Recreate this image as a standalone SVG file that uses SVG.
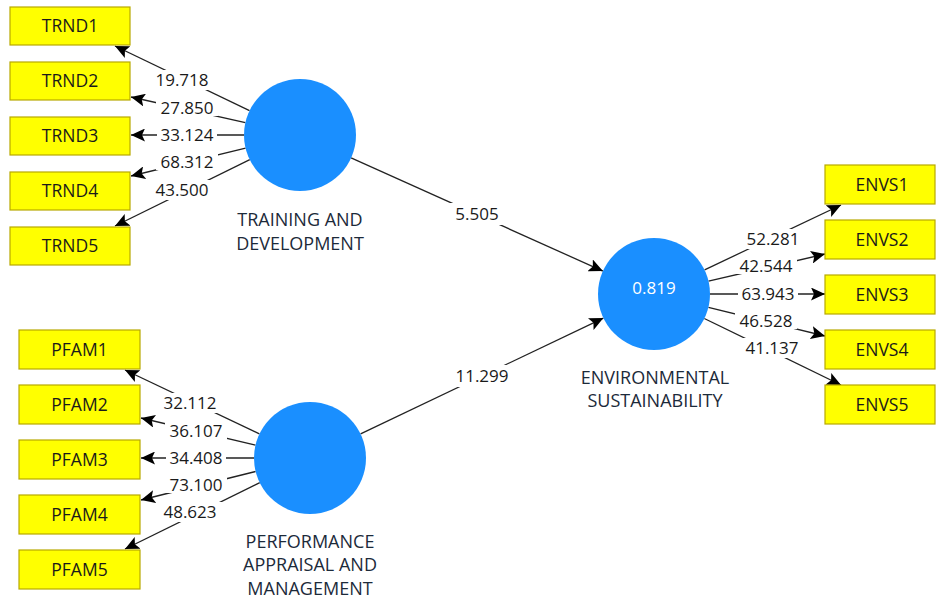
<svg xmlns="http://www.w3.org/2000/svg" width="936" height="602" viewBox="0 0 936 602">
<defs>
<marker id="ah" markerUnits="userSpaceOnUse" markerWidth="15" markerHeight="13" refX="14" refY="6.5" orient="auto">
<path d="M0,0 L14,6.5 L0,13 L3,6.5 Z" fill="#000"/>
</marker>
<style>
.box{fill:#ffff00;stroke:#b8a900;stroke-width:1.2}
.bt{font-family:"Open Sans","Noto Sans",sans-serif;font-size:17.5px;fill:#1a1a1a;text-anchor:middle}
.lv{fill:#1a8fff}
.lt{font-family:"Open Sans","Noto Sans",sans-serif;font-size:18px;fill:#1c2a3a;text-anchor:middle}
.num{font-family:"Open Sans","Noto Sans",sans-serif;font-size:17px;fill:#1a1a1a;text-anchor:middle}
.bg{fill:#fff}
.ln{stroke:#222;stroke-width:1.3;fill:none;marker-end:url(#ah)}
</style>
</defs>
<rect width="936" height="602" fill="#fff"/>
<g id="connectors">
<line class="ln" x1="249.5" y1="110.7" x2="115" y2="46"/>
<line class="ln" x1="245.4" y1="122.7" x2="131" y2="97"/>
<line class="ln" x1="244" y1="135" x2="131" y2="135"/>
<line class="ln" x1="245.6" y1="148.2" x2="131" y2="176"/>
<line class="ln" x1="249.8" y1="159.7" x2="115" y2="226"/>
<line class="ln" x1="259.4" y1="433.9" x2="125" y2="370"/>
<line class="ln" x1="255.5" y1="445.1" x2="141" y2="418"/>
<line class="ln" x1="254" y1="458" x2="141" y2="458"/>
<line class="ln" x1="255.6" y1="471.5" x2="141" y2="500"/>
<line class="ln" x1="259.8" y1="482.7" x2="125" y2="549"/>
<line class="ln" x1="704.6" y1="269.9" x2="841" y2="205"/>
<line class="ln" x1="708.5" y1="281.2" x2="825" y2="254"/>
<line class="ln" x1="710" y1="294" x2="825" y2="294"/>
<line class="ln" x1="708.4" y1="307.4" x2="825" y2="336"/>
<line class="ln" x1="704.3" y1="318.5" x2="841" y2="385"/>
<line class="ln" x1="351.1" y1="157.9" x2="602.9" y2="271.1"/>
<line class="ln" x1="360.6" y1="433.9" x2="603.4" y2="318.1"/>
<g id="labels">
<rect class="bg" x="150" y="70" width="64" height="20"/><text class="num" x="182" y="86">19.718</text>
<rect class="bg" x="156" y="100" width="62" height="16"/><text class="num" x="187" y="114">27.850</text>
<rect class="bg" x="157" y="127" width="60" height="16"/><text class="num" x="187" y="141">33.124</text>
<rect class="bg" x="156" y="154" width="62" height="16"/><text class="num" x="187" y="168">68.312</text>
<rect class="bg" x="150" y="180" width="64" height="20"/><text class="num" x="182" y="196">43.500</text>
<rect class="bg" x="158" y="393" width="64" height="20"/><text class="num" x="190" y="409">32.112</text>
<rect class="bg" x="165" y="423" width="62" height="16"/><text class="num" x="196" y="437">36.107</text>
<rect class="bg" x="166" y="450" width="60" height="16"/><text class="num" x="196" y="464">34.408</text>
<rect class="bg" x="165" y="477" width="62" height="16"/><text class="num" x="196" y="491">73.100</text>
<rect class="bg" x="158" y="502" width="64" height="20"/><text class="num" x="190" y="518">48.623</text>
<rect class="bg" x="741" y="229" width="64" height="20"/><text class="num" x="773" y="245">52.281</text>
<rect class="bg" x="735" y="258" width="62" height="16"/><text class="num" x="766" y="272">42.544</text>
<rect class="bg" x="738" y="286" width="60" height="16"/><text class="num" x="768" y="300">63.943</text>
<rect class="bg" x="735" y="313" width="62" height="16"/><text class="num" x="766" y="327">46.528</text>
<rect class="bg" x="740" y="338" width="64" height="20"/><text class="num" x="772" y="354">41.137</text>
<rect class="bg" x="447" y="203" width="60" height="22"/><text class="num" x="477" y="220">5.505</text>
<rect class="bg" x="449" y="365" width="66" height="22"/><text class="num" x="482" y="382">11.299</text>
</g>
</g>
<g id="TRND1"><rect class="box" x="10" y="7" width="120" height="38"/><text class="bt" x="70" y="32">TRND1</text></g>
<g id="TRND2"><rect class="box" x="10" y="62" width="120" height="38"/><text class="bt" x="70" y="87">TRND2</text></g>
<g id="TRND3"><rect class="box" x="10" y="117" width="120" height="38"/><text class="bt" x="70" y="142">TRND3</text></g>
<g id="TRND4"><rect class="box" x="10" y="172" width="120" height="38"/><text class="bt" x="70" y="197">TRND4</text></g>
<g id="TRND5"><rect class="box" x="10" y="227" width="120" height="38"/><text class="bt" x="70" y="252">TRND5</text></g>
<g id="PFAM1"><rect class="box" x="19" y="330" width="121" height="39"/><text class="bt" x="79.5" y="355.5">PFAM1</text></g>
<g id="PFAM2"><rect class="box" x="19" y="385" width="121" height="39"/><text class="bt" x="79.5" y="410.5">PFAM2</text></g>
<g id="PFAM3"><rect class="box" x="19" y="440" width="121" height="39"/><text class="bt" x="79.5" y="465.5">PFAM3</text></g>
<g id="PFAM4"><rect class="box" x="19" y="495" width="121" height="39"/><text class="bt" x="79.5" y="520.5">PFAM4</text></g>
<g id="PFAM5"><rect class="box" x="19" y="550" width="121" height="39"/><text class="bt" x="79.5" y="575.5">PFAM5</text></g>
<g id="ENVS1"><rect class="box" x="825" y="165" width="110" height="39"/><text class="bt" x="882" y="190.5">ENVS1</text></g>
<g id="ENVS2"><rect class="box" x="825" y="220" width="110" height="39"/><text class="bt" x="882" y="245.5">ENVS2</text></g>
<g id="ENVS3"><rect class="box" x="825" y="275" width="110" height="39"/><text class="bt" x="882" y="300.5">ENVS3</text></g>
<g id="ENVS4"><rect class="box" x="825" y="330" width="110" height="39"/><text class="bt" x="882" y="355.5">ENVS4</text></g>
<g id="ENVS5"><rect class="box" x="825" y="385" width="110" height="39"/><text class="bt" x="882" y="410.5">ENVS5</text></g>
<g id="TRAINING_AND_DEVELOPMENT"><circle class="lv" cx="300" cy="135" r="56"/><text class="lt" x="300" y="226">TRAINING AND</text><text class="lt" x="300" y="250">DEVELOPMENT</text></g>
<g id="PERFORMANCE_APPRAISAL_AND_MANAGEMENT"><circle class="lv" cx="310" cy="458" r="56"/><text class="lt" x="310" y="548">PERFORMANCE</text><text class="lt" x="310" y="571">APPRAISAL AND</text><text class="lt" x="310" y="595">MANAGEMENT</text></g>
<g id="ENVIRONMENTAL_SUSTAINABILITY"><circle class="lv" cx="654" cy="294" r="56"/><text class="lt" x="654" y="294" style="fill:#fff;font-size:17px">0.819</text><text class="lt" x="655" y="384">ENVIRONMENTAL</text><text class="lt" x="655" y="407">SUSTAINABILITY</text></g>
</svg>
